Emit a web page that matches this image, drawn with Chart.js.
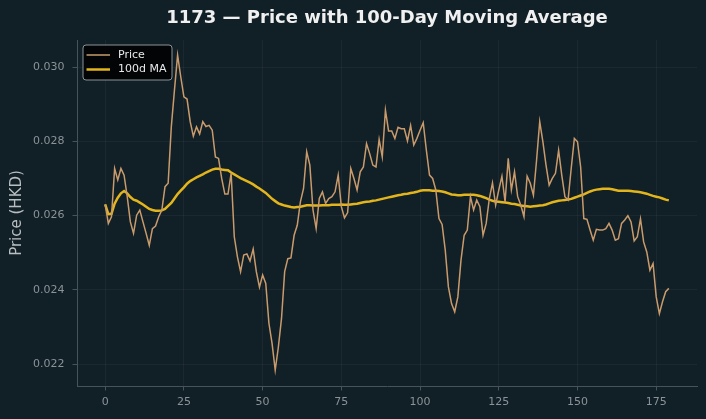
<!DOCTYPE html>
<html>
<head>
<meta charset="utf-8">
<script src="https://cdn.jsdelivr.net/npm/chart.js@4.4.1/dist/chart.umd.min.js"></script>
<style>
  html, body { margin: 0; padding: 0; background: #111f26; }
  #wrap { width: 706px; height: 419px; }
</style>
</head>
<body>
<div id="wrap"><canvas id="priceChart" width="706" height="419"></canvas></div>
<script>
// daily closing price, day 0..179
const price = [
  0.02630, 0.02579, 0.02597, 0.02727, 0.02696, 0.02727, 0.02709, 0.02651, 0.02583, 0.02552,
  0.02601, 0.02615, 0.02583, 0.02552, 0.02520, 0.02565, 0.02572, 0.02597, 0.02615, 0.02678,
  0.02687, 0.02839, 0.02938, 0.03032, 0.02974, 0.02920, 0.02914, 0.02853, 0.02814, 0.02839,
  0.02820, 0.02853, 0.02840, 0.02843, 0.02830, 0.02758, 0.02754, 0.02700, 0.02658, 0.02658,
  0.02714, 0.02543, 0.02489, 0.02449, 0.02494, 0.02497, 0.02478, 0.02510, 0.02449, 0.02407,
  0.02440, 0.02417, 0.02310, 0.02256, 0.02184, 0.02246, 0.02323, 0.02449, 0.02484, 0.02486,
  0.02547, 0.02574, 0.02637, 0.02673, 0.02772, 0.02736, 0.02615, 0.02565, 0.02646, 0.02664,
  0.02633, 0.02646, 0.02651, 0.02664, 0.02709, 0.02624, 0.02594, 0.02608, 0.02727, 0.02700,
  0.02669, 0.02718, 0.02731, 0.02794, 0.02767, 0.02736, 0.02731, 0.02805, 0.02758, 0.02884,
  0.02828, 0.02828, 0.02808, 0.02838, 0.02834, 0.02834, 0.02801, 0.02843, 0.02790, 0.02808,
  0.02830, 0.02850, 0.02776, 0.02709, 0.02700, 0.02669, 0.02592, 0.02576, 0.02507, 0.02408,
  0.02363, 0.02341, 0.02381, 0.02480, 0.02547, 0.02561, 0.02651, 0.02615, 0.02642, 0.02624,
  0.02547, 0.02579, 0.02646, 0.02688, 0.02628, 0.02669, 0.02706, 0.02637, 0.02754, 0.02669,
  0.02718, 0.02651, 0.02628, 0.02597, 0.02706, 0.02687, 0.02655, 0.02749, 0.02853, 0.02799,
  0.02736, 0.02682, 0.02700, 0.02714, 0.02776, 0.02709, 0.02651, 0.02642, 0.02727, 0.02808,
  0.02799, 0.02731, 0.02592, 0.02590, 0.02561, 0.02534, 0.02563, 0.02561, 0.02561, 0.02565,
  0.02579, 0.02561, 0.02534, 0.02538, 0.02579, 0.02588, 0.02600, 0.02583, 0.02532, 0.02543,
  0.02591, 0.02529, 0.02502, 0.02453, 0.02471, 0.02381, 0.02336, 0.02368, 0.02395, 0.02404
];

// 100-day moving average as drawn
const movingAvg = [
  0.02630, 0.02604, 0.02605, 0.02632, 0.02648, 0.02660, 0.02666, 0.02660, 0.02650, 0.02643,
  0.02640, 0.02635, 0.02630, 0.02624, 0.02618, 0.02615, 0.02613, 0.02613, 0.02614, 0.02618,
  0.02626, 0.02634, 0.02646, 0.02658, 0.02667, 0.02676, 0.02686, 0.02693, 0.02698, 0.02703,
  0.02707, 0.02711, 0.02716, 0.02720, 0.02724, 0.02726, 0.02726, 0.02724, 0.02723, 0.02722,
  0.02716, 0.02711, 0.02706, 0.02701, 0.02697, 0.02693, 0.02689, 0.02684, 0.02678, 0.02673,
  0.02667, 0.02661, 0.02653, 0.02645, 0.02639, 0.02633, 0.02630, 0.02627, 0.02625, 0.02623,
  0.02622, 0.02623, 0.02624, 0.02626, 0.02628, 0.02628, 0.02627, 0.02627, 0.02627, 0.02628,
  0.02628, 0.02628, 0.02629, 0.02629, 0.02629, 0.02630, 0.02629, 0.02629, 0.02630, 0.02631,
  0.02632, 0.02634, 0.02636, 0.02637, 0.02638, 0.02640, 0.02641, 0.02643, 0.02645, 0.02647,
  0.02649, 0.02651, 0.02653, 0.02655, 0.02656, 0.02658, 0.02659, 0.02661, 0.02662, 0.02664,
  0.02667, 0.02668, 0.02668, 0.02668, 0.02667, 0.02667, 0.02666, 0.02665, 0.02663, 0.02660,
  0.02657, 0.02656, 0.02655, 0.02655, 0.02656, 0.02656, 0.02656, 0.02656, 0.02655, 0.02653,
  0.02650, 0.02647, 0.02643, 0.02640, 0.02638, 0.02637, 0.02636, 0.02635, 0.02634, 0.02632,
  0.02631, 0.02629, 0.02627, 0.02626, 0.02625, 0.02624, 0.02625, 0.02626, 0.02627, 0.02628,
  0.02630, 0.02633, 0.02636, 0.02638, 0.02640, 0.02641, 0.02642, 0.02643, 0.02645, 0.02648,
  0.02651, 0.02654, 0.02657, 0.02661, 0.02665, 0.02668, 0.02670, 0.02671, 0.02672, 0.02672,
  0.02672, 0.02671, 0.02669, 0.02667, 0.02667, 0.02667, 0.02667, 0.02666, 0.02665, 0.02664,
  0.02663, 0.02661, 0.02659, 0.02656, 0.02653, 0.02651, 0.02649, 0.02646, 0.02643, 0.02641
];

const xTicks = [0, 25, 50, 75, 100, 125, 150, 175];
const yTicks = [0.022, 0.024, 0.026, 0.028, 0.030];

const FONT = "'DejaVu Sans', sans-serif";
const GRID = 'rgba(255, 255, 255, 0.045)';
const AXIS = '#46535a';
const TICK_TEXT = '#8b9397';

const toPoints = (arr) => arr.map((v, i) => ({ x: i, y: v }));

// legend box drawn inside the plot, top-left
const boxLegend = {
    id: 'boxLegend',
    afterDraw(chart) {
        const { ctx, chartArea } = chart;
        const x = chartArea.left + 6;
        const y = chartArea.top + 5;
        const w = 89, h = 35;
        ctx.save();
        ctx.beginPath();
        ctx.roundRect(x, y, w, h, 3);
        ctx.fillStyle = 'rgba(0, 0, 0, 0.85)';
        ctx.fill();
        ctx.strokeStyle = '#8c9498';
        ctx.lineWidth = 1;
        ctx.stroke();

        ctx.font = `11px ${FONT}`;
        ctx.textBaseline = 'middle';
        chart.data.datasets.forEach((ds, i) => {
            const ry = y + 10 + i * 14.5;
            ctx.beginPath();
            ctx.moveTo(x + 3.5, ry);
            ctx.lineTo(x + 27, ry);
            ctx.strokeStyle = ds.borderColor;
            ctx.lineWidth = ds.borderWidth;
            ctx.stroke();
            ctx.fillStyle = '#e8e8e8';
            ctx.fillText(ds.label, x + 35, ry);
        });
        ctx.restore();
    }
};

const ctx = document.getElementById('priceChart').getContext('2d');

new Chart(ctx, {
    type: 'line',
    data: {
        datasets: [
            {
                label: 'Price',
                data: toPoints(price),
                borderColor: '#c99b6c',
                borderWidth: 1.5,
                pointRadius: 0,
                tension: 0,
                fill: false
            },
            {
                label: '100d MA',
                data: toPoints(movingAvg),
                borderColor: '#e3b51c',
                borderWidth: 2.5,
                pointRadius: 0,
                tension: 0,
                fill: false
            }
        ]
    },
    options: {
        responsive: false,
        animation: false,
        layout: { padding: { top: 0, right: 9, bottom: 0, left: 0 } },
        plugins: {
            legend: { display: false },
            tooltip: { enabled: false },
            title: {
                display: true,
                fullSize: false,
                text: '1173 — Price with 100-Day Moving Average',
                color: '#f0f0f0',
                font: { family: FONT, size: 18, weight: 'bold' },
                padding: { top: 8, bottom: 10.4 }
            }
        },
        scales: {
            x: {
                type: 'linear',
                min: -8.95,
                max: 187.95,
                afterBuildTicks: (scale) => { scale.ticks = xTicks.map(v => ({ value: v })); },
                afterFit: (scale) => { scale.height = 33; },
                grid: { color: GRID, tickColor: AXIS, tickLength: 4.5, lineWidth: 1 },
                border: { color: AXIS, width: 1 },
                ticks: { color: TICK_TEXT, font: { family: FONT, size: 11 }, padding: 5, maxRotation: 0 }
            },
            y: {
                min: 0.02141,
                max: 0.03073,
                afterBuildTicks: (scale) => { scale.ticks = yTicks.map(v => ({ value: v })); },
                afterFit: (scale) => { scale.width = 77; },
                grid: { color: GRID, tickColor: AXIS, tickLength: 4.5, lineWidth: 1 },
                border: { color: AXIS, width: 1 },
                ticks: {
                    color: TICK_TEXT,
                    font: { family: FONT, size: 11 },
                    padding: 8,
                    callback: (v) => v.toFixed(3)
                },
                title: {
                    display: true,
                    text: 'Price (HKD)',
                    color: '#b9bec1',
                    font: { family: FONT, size: 15 },
                    padding: { top: 8, bottom: 4 }
                }
            }
        }
    },
    plugins: [boxLegend]
});
</script>
</body>
</html>
